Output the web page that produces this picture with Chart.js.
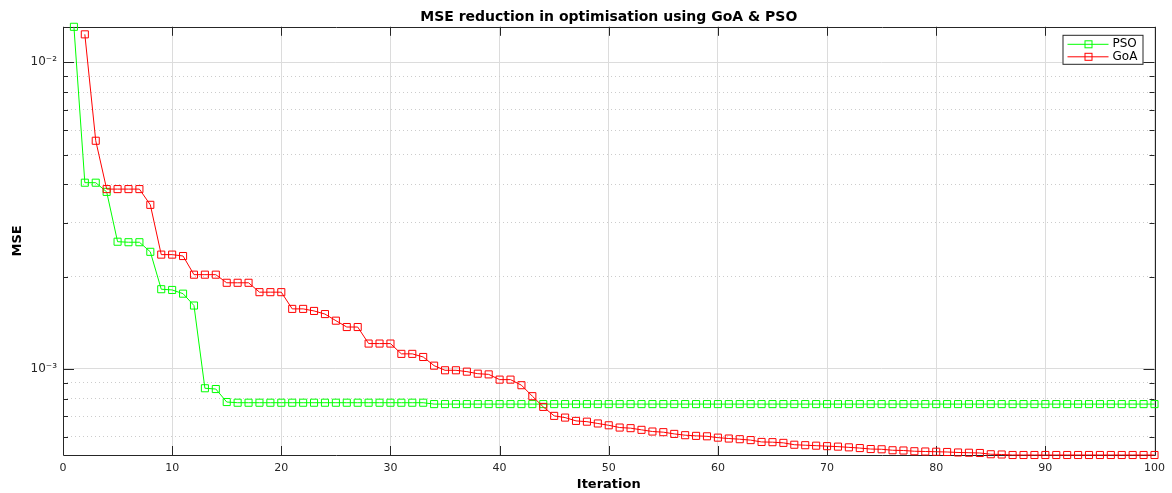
<!DOCTYPE html>
<html>
<head>
<meta charset="utf-8">
<script src="https://cdn.jsdelivr.net/npm/chart.js@4.4.1/dist/chart.umd.min.js"></script>
<style>
  html, body { margin: 0; padding: 0; background: #fff; }
  #wrap { width: 1172px; height: 493px; }
</style>
</head>
<body>
<div id="wrap"><canvas id="mseChart" width="1172" height="493"></canvas></div>
<script>
// iteration numbers (x axis categories)
const iterations = Array.from({ length: 100 }, (_, i) => i + 1);

// best MSE per iteration
const psoMse = [
    0.01306, 0.00405, 0.00405, 0.00378, 0.00260, 0.00259, 0.00259, 0.00241, 0.00182, 0.00181,
    0.00176, 0.00161, 0.000865, 0.000860, 0.000780, 0.000776, 0.000776, 0.000776, 0.000776, 0.000776,
    0.000776, 0.000776, 0.000776, 0.000776, 0.000776, 0.000776, 0.000776, 0.000776, 0.000776, 0.000776,
    0.000776, 0.000776, 0.000776, 0.000768, 0.000768, 0.000768, 0.000768, 0.000768, 0.000768, 0.000768,
    0.000768, 0.000768, 0.000768, 0.000768, 0.000768, 0.000768, 0.000768, 0.000768, 0.000768, 0.000768,
    0.000768, 0.000768, 0.000768, 0.000768, 0.000768, 0.000768, 0.000768, 0.000768, 0.000768, 0.000768,
    0.000768, 0.000768, 0.000768, 0.000768, 0.000768, 0.000768, 0.000768, 0.000768, 0.000768, 0.000768,
    0.000768, 0.000768, 0.000768, 0.000768, 0.000768, 0.000768, 0.000768, 0.000768, 0.000768, 0.000768,
    0.000768, 0.000768, 0.000768, 0.000768, 0.000768, 0.000768, 0.000768, 0.000768, 0.000768, 0.000768,
    0.000768, 0.000768, 0.000768, 0.000768, 0.000768, 0.000768, 0.000768, 0.000768, 0.000768, 0.000768
];

const goaMse = [
    null, 0.01234, 0.00555, 0.00386, 0.00386, 0.00386, 0.00386, 0.00343, 0.00236, 0.00236,
    0.002335, 0.00203, 0.00203, 0.00203, 0.00191, 0.00191, 0.00191, 0.00178, 0.00178, 0.00178,
    0.00157, 0.00157, 0.001546, 0.00151, 0.001437, 0.00137, 0.00137, 0.00121, 0.00121, 0.00121,
    0.00112, 0.00112, 0.001094, 0.001025, 0.00099, 0.00099, 0.00098, 0.000965, 0.00096, 0.000923,
    0.000923, 0.000885, 0.000815, 0.000752, 0.000703, 0.000694, 0.000677, 0.000673, 0.000664, 0.000655,
    0.000644, 0.000641, 0.000633, 0.000625, 0.000622, 0.000614, 0.000608, 0.000605, 0.000603, 0.000597,
    0.000593, 0.000590, 0.000586, 0.000578, 0.000577, 0.000574, 0.000566, 0.000564, 0.000562, 0.000560,
    0.000558, 0.000555, 0.000552, 0.000548, 0.000547, 0.000543, 0.000542, 0.000539, 0.000538, 0.000537,
    0.000536, 0.000534, 0.000533, 0.000532, 0.000527, 0.000526, 0.000524, 0.000524, 0.000524, 0.000524,
    0.000524, 0.000524, 0.000524, 0.000524, 0.000524, 0.000524, 0.000524, 0.000524, 0.000524, 0.000524
];

const xTicks = [0, 10, 20, 30, 40, 50, 60, 70, 80, 90, 100];
const yTicks = [0.0006, 0.0007, 0.0008, 0.0009, 0.001, 0.002, 0.003, 0.004, 0.005, 0.006, 0.007, 0.008, 0.009, 0.01];
const yMajor = [0.001, 0.01];
const yMajorLabels = ["10⁻³", "10⁻²"];

const seriesNames = ["PSO", "GoA"];
const seriesColors = ["#00ff00", "#ff0000"];

const FONT = "'DejaVu Sans', 'Liberation Sans', sans-serif";
Chart.defaults.font.family = FONT;

// tight y limits like matlab's axis tight
const allVals = psoMse.concat(goaMse).filter(v => v !== null);
const yMin = Math.min(...allVals);
const yMax = Math.max(...allVals);

// box, inward ticks and legend, matlab style
const matlabAxes = {
    id: "matlabAxes",
    beforeDatasetsDraw(chart) {
        const { ctx, chartArea: a, scales: { x, y } } = chart;
        ctx.save();
        ctx.strokeStyle = "#262626";
        ctx.lineWidth = 1;
        ctx.beginPath();
        ctx.rect(Math.round(a.left) + 0.5, Math.round(a.top) + 0.5,
            Math.round(a.right - a.left), Math.round(a.bottom - a.top));
        ctx.stroke();

        ctx.beginPath();
        xTicks.forEach(v => {
            const px = Math.round(x.getPixelForValue(v)) + 0.5;
            ctx.moveTo(px, a.bottom); ctx.lineTo(px, a.bottom - 9);
            ctx.moveTo(px, a.top); ctx.lineTo(px, a.top + 9);
        });
        yTicks.forEach(v => {
            const py = Math.round(y.getPixelForValue(v)) + 0.5;
            const len = yMajor.includes(v) ? 11 : 5;
            ctx.moveTo(a.left, py); ctx.lineTo(a.left + len, py);
            ctx.moveTo(a.right, py); ctx.lineTo(a.right - len, py);
        });
        ctx.stroke();
        ctx.restore();
    },
    afterDraw(chart) {
        const { ctx, chartArea: a } = chart;
        const bx = a.right - 92, by = a.top + 8, bw = 80, bh = 29;
        ctx.save();
        ctx.fillStyle = "#fff";
        ctx.fillRect(bx, by, bw, bh);
        ctx.strokeStyle = "#262626";
        ctx.lineWidth = 1;
        ctx.strokeRect(bx + 0.5, by + 0.5, bw, bh);
        ctx.font = "12px " + FONT;
        ctx.textBaseline = "middle";
        seriesNames.forEach((name, i) => {
            const ly = by + 9.5 + i * 12.5;
            ctx.strokeStyle = seriesColors[i];
            ctx.beginPath();
            ctx.moveTo(bx + 5, ly); ctx.lineTo(bx + 46, ly);
            ctx.stroke();
            ctx.strokeRect(bx + 22.5, ly - 3.5, 7, 7);
            ctx.fillStyle = "#000";
            ctx.fillText(name, bx + 50, ly);
        });
        ctx.restore();
    }
};

const ctx = document.getElementById("mseChart").getContext("2d");

new Chart(ctx, {
    type: "line",
    data: {
        labels: iterations,
        datasets: [
            {
                label: seriesNames[0],
                data: iterations.map((it, i) => ({ x: it, y: psoMse[i] })),
                borderColor: seriesColors[0],
                backgroundColor: "rgba(0,0,0,0)",
                borderWidth: 1,
                pointStyle: "rect",
                pointRadius: 5,
                pointBorderWidth: 1,
                pointBackgroundColor: "rgba(0,0,0,0)",
                pointBorderColor: seriesColors[0],
                tension: 0,
                clip: false,
                order: 1
            },
            {
                label: seriesNames[1],
                data: iterations.map((it, i) => ({ x: it, y: goaMse[i] })),
                borderColor: seriesColors[1],
                backgroundColor: "rgba(0,0,0,0)",
                borderWidth: 1,
                pointStyle: "rect",
                pointRadius: 5,
                pointBorderWidth: 1,
                pointBackgroundColor: "rgba(0,0,0,0)",
                pointBorderColor: seriesColors[1],
                tension: 0,
                clip: false,
                order: 0
            }
        ]
    },
    options: {
        responsive: false,
        animation: false,
        layout: { padding: { left: 0, right: 16, top: 0, bottom: 0 } },
        plugins: {
            legend: { display: false },
            tooltip: { enabled: false },
            title: {
                display: true,
                fullSize: false,
                text: "MSE reduction in optimisation using GoA & PSO",
                color: "#000",
                font: { size: 14, weight: "bold" },
                padding: { top: 9, bottom: 1 }
            }
        },
        scales: {
            x: {
                type: "linear",
                min: 0,
                max: 100,
                afterBuildTicks: s => { s.ticks = xTicks.map(v => ({ value: v })); },
                afterFit: s => { s.height = 38; },
                ticks: { color: "#262626", font: { size: 11 }, padding: 7, maxRotation: 0, autoSkip: false },
                grid: { color: "#dcdcdc", drawTicks: false },
                border: { display: false },
                title: {
                    display: true,
                    text: "Iteration",
                    color: "#000",
                    font: { size: 13, weight: "bold" },
                    padding: { top: 0, bottom: 1 }
                }
            },
            y: {
                type: "logarithmic",
                min: yMin,
                max: yMax,
                afterBuildTicks: s => {
                    s.ticks = yTicks.map(v => ({ value: v, major: yMajor.includes(v) }));
                },
                afterFit: s => { s.width = 63; },
                ticks: {
                    color: "#262626",
                    font: { size: 12 },
                    padding: 6,
                    autoSkip: false,
                    callback: v => {
                        const k = yMajor.indexOf(v);
                        return k >= 0 ? yMajorLabels[k] : "";
                    }
                },
                grid: {
                    drawTicks: false,
                    color: c => (c.tick && c.tick.major ? "#dcdcdc" : "#cccccc")
                },
                border: {
                    display: false,
                    dash: c => (c.tick && !c.tick.major ? [1, 3] : [])
                },
                title: {
                    display: true,
                    text: "MSE",
                    color: "#000",
                    font: { size: 13, weight: "bold" },
                    padding: { top: 10, bottom: 0 }
                }
            }
        }
    },
    plugins: [matlabAxes]
});
</script>
</body>
</html>
